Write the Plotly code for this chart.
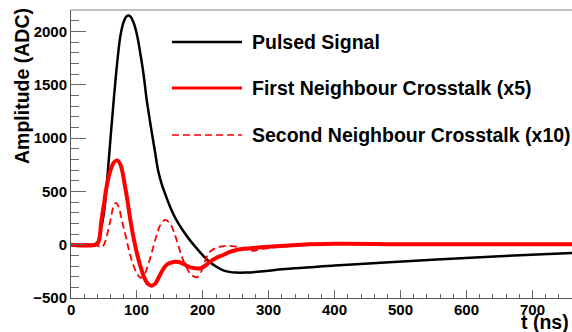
import plotly.graph_objects as go

# Time samples (ns) and amplitudes (ADC) for each trace
pulse_t = [0, 30, 35, 40, 45, 50, 55, 60, 65, 70, 75, 80, 85, 90, 95, 100, 105, 110,
           115, 120, 125, 128, 132, 138, 145, 150, 155, 160, 170, 180, 190, 200, 210,
           220, 230, 240, 250, 265, 300, 320, 400, 470, 555, 650, 760]
pulse_v = [0, 0, 2, 20, 130, 300, 620, 1000, 1370, 1700, 1960, 2090, 2145, 2140, 2080,
           1970, 1800, 1600, 1350, 1150, 960, 850, 700, 560, 440, 360, 290, 230, 130, 45,
           -30, -100, -160, -205, -238, -255, -262, -262, -245, -230, -195, -170, -140,
           -108, -78]

first_t = [0, 38, 42, 46, 50, 54, 60, 65, 70, 75, 82, 86, 90, 97, 102, 107, 112, 117,
           122, 127, 132, 137, 142, 147, 152, 158, 165, 172, 180, 190, 196, 203, 211,
           220, 231, 240, 251, 270, 302, 350, 400, 500, 600, 760]
first_v = [0, 0, 30, 220, 380, 545, 700, 770, 790, 750, 545, 400, 232, 0, -130, -237,
           -320, -370, -385, -370, -320, -260, -210, -180, -168, -160, -165, -185, -210,
           -222, -222, -200, -160, -125, -97, -70, -50, -35, -19, 0, 8, 5, 5, 5]

second_t = [0, 38, 42, 46, 50, 54, 60, 64, 68, 72, 77, 83, 89, 95, 100, 106, 112, 118,
            124, 130, 136, 143, 150, 156, 162, 168, 175, 182, 191, 197, 203, 208, 213,
            220, 230, 240, 255, 265, 277, 290, 302, 340, 400, 500, 600, 760]
second_v = [0, 0, -15, -25, 0, 75, 232, 350, 392, 360, 232, 80, -80, -200, -270, -310,
            -270, -170, -40, 90, 190, 232, 200, 120, 10, -110, -210, -280, -305, -260,
            -160, -90, -55, -30, -15, -12, -25, -45, -58, -40, -30, -10, 5, 3, 3, 3]

series_names = ["Pulsed Signal", "First Neighbour Crosstalk (x5)",
                "Second Neighbour Crosstalk (x10)"]

x_ticks = [0, 100, 200, 300, 400, 500, 600, 700]
x_range = [0, 760]
y_range = [-500, 2200]

W, H = 572, 332
ML, MR, MT, MB = 71, 0, 10, 34
PW, PH = W - ML - MR, H - MT - MB

FONT = "Liberation Sans, Arial, Helvetica, sans-serif"
TICK_FONT = dict(family=FONT, size=15, color="black", weight="bold")
TITLE_FONT = dict(family=FONT, size=19.5, color="black", weight="bold")


def px_x(p):
    return (p - ML) / PW


def px_y(p):
    return (H - MB - p) / PH


fig = go.Figure()
fig.add_trace(go.Scatter(x=pulse_t, y=pulse_v, mode="lines", line_shape="spline",
                         line=dict(color="black", width=2.5), name=series_names[0]))
fig.add_trace(go.Scatter(x=first_t, y=first_v, mode="lines", line_shape="spline",
                         line=dict(color="#ff0000", width=4), name=series_names[1]))
fig.add_trace(go.Scatter(x=second_t, y=second_v, mode="lines", line_shape="spline",
                         line=dict(color="#ff0000", width=1.8, dash="7px,4px"),
                         name=series_names[2]))

axis_common = dict(showgrid=False, zeroline=False, showline=True, linecolor="#555",
                   linewidth=1, ticks="inside", tickcolor="#666", tickwidth=1,
                   tickfont=TICK_FONT)

fig.update_xaxes(range=x_range, tickvals=x_ticks, ticklen=8, showticklabels=False,
                 minor=dict(ticks="inside", dtick=20, ticklen=4, tickcolor="#666"),
                 **axis_common)
fig.update_yaxes(range=y_range, dtick=500, tick0=0, ticklen=15,
                 minor=dict(ticks="inside", dtick=100, ticklen=8, tickcolor="#666"),
                 **axis_common)

# x tick labels sit close under the axis
for t in x_ticks:
    fig.add_annotation(text=str(t), xref="x", yref="paper", x=t, y=px_y(309),
                       xanchor="center", yanchor="middle", showarrow=False,
                       font=TICK_FONT)

# Frame top edge
fig.add_shape(type="line", xref="paper", yref="paper", x0=0, x1=1, y0=1, y1=1,
              line=dict(color="#aaa", width=1.5))

# Legend drawn by hand: sample line + label per row
legend_rows = [42, 88, 135]
legend_styles = [dict(color="black", width=2.5),
                 dict(color="#ff0000", width=3),
                 dict(color="#ff0000", width=1.5, dash="7px,4px")]
for name, row, style in zip(series_names, legend_rows, legend_styles):
    fig.add_shape(type="line", xref="paper", yref="paper",
                  x0=px_x(172), x1=px_x(242), y0=px_y(row), y1=px_y(row), line=style)
    fig.add_annotation(text=name, xref="paper", yref="paper", x=px_x(250), y=px_y(row),
                       xanchor="left", yanchor="middle", showarrow=False,
                       font=TITLE_FONT)

# Axis titles
fig.add_annotation(text="t (ns)", xref="paper", yref="paper", x=px_x(571), y=px_y(322),
                   xanchor="right", yanchor="middle", showarrow=False, font=TITLE_FONT)
fig.add_annotation(text="Amplitude (ADC)", xref="paper", yref="paper", x=px_x(22),
                   y=px_y(86), xanchor="center", yanchor="middle", textangle=-90,
                   showarrow=False, font=TITLE_FONT)

fig.update_layout(width=W, height=H, margin=dict(l=ML, r=MR, t=MT, b=MB),
                  paper_bgcolor="white", plot_bgcolor="white", showlegend=False)

fig.write_html("out.html")
